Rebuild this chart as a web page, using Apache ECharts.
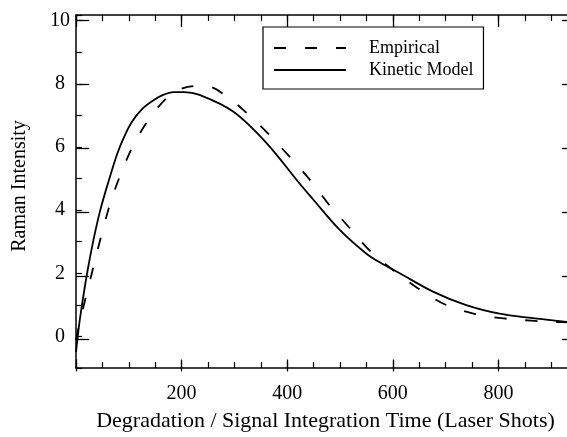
<!DOCTYPE html>
<html>
<head>
<meta charset="utf-8">
<script src="https://cdn.jsdelivr.net/npm/echarts@6/dist/echarts.min.js"></script>
<style>
html,body{margin:0;padding:0;background:#fff;overflow:hidden;width:567px;height:437px;}
#chart{width:575px;height:437px;}
</style>
</head>
<body>
<div id="chart"></div>
<script>
// Data
const kineticX = [0, 5, 10, 21, 33, 46, 62, 78, 92, 106, 125, 144, 165, 185, 205, 234, 297, 360, 423, 448, 499, 550, 580, 613, 676, 739, 802, 865, 929, 945];
const kineticY = [-0.5, 0.25, 0.85, 2.0, 3.05, 4.0, 4.93, 5.78, 6.35, 6.8, 7.2, 7.45, 7.65, 7.74, 7.74, 7.65, 7.13, 6.14, 4.85, 4.36, 3.38, 2.62, 2.3, 2.0, 1.42, 0.99, 0.72, 0.58, 0.46, 0.43];
const empiricalX = [0, 10, 24, 38, 52, 68, 89, 110, 141, 176, 200, 226, 250, 289, 327, 368, 409, 446, 478, 519, 558, 606, 648, 698, 751, 805, 862, 918, 945];
const empiricalY = [-0.1, 0.66, 1.6, 2.54, 3.45, 4.38, 5.32, 6.1, 6.95, 7.62, 7.85, 7.93, 7.92, 7.55, 7.02, 6.35, 5.61, 4.9, 4.2, 3.42, 2.69, 2.03, 1.52, 1.02, 0.73, 0.58, 0.50, 0.45, 0.44];
const xLabelValues = [200, 400, 600, 800];
const xMajorTicks = [0, 200, 400, 600, 800];
const yLabelValues = [0, 2, 4, 6, 8, 10];
const seriesNames = ['Empirical', 'Kinetic Model'];
const xTitle = 'Degradation / Signal Integration Time (Laser Shots)';
const yTitle = 'Raman Intensity';

const X_MIN = 0, X_MAX = 945, Y_MIN = -1, Y_MAX = 10.18;
const FONT = '"Liberation Serif", "Times New Roman", serif';

const gridBox = {left: 76, right: 0, top: 15, bottom: 65.5, containLabel: false};
const lineBlack = {color: '#000', width: 1.5};

function xAx(grid, pos, opts) {
  return Object.assign({
    type: 'value', gridIndex: grid, position: pos, min: X_MIN, max: X_MAX,
    axisLine: {show: grid === 0, onZero: false, lineStyle: lineBlack},
    splitLine: {show: false},
    axisLabel: {show: false}
  }, opts);
}
function yAx(grid, pos, opts) {
  return Object.assign({
    type: 'value', gridIndex: grid, position: pos, min: Y_MIN, max: Y_MAX,
    axisLine: {show: grid === 0, onZero: false, lineStyle: lineBlack},
    splitLine: {show: false},
    axisLabel: {show: false}
  }, opts);
}

const chart = echarts.init(document.getElementById('chart'), null, {renderer: 'canvas'});
chart.setOption({
  animation: false,
  backgroundColor: '#fff',
  grid: [Object.assign({}, gridBox), Object.assign({}, gridBox)],
  graphic: [{
    type: 'text', x: 20, y: 186, rotation: Math.PI / 2,
    style: {text: yTitle, fill: '#000', font: '20px ' + FONT, align: 'center', verticalAlign: 'middle'}
  }],
  xAxis: [
    xAx(0, 'bottom', {
      interval: 50,
      axisTick: {inside: true, length: 6, lineStyle: {color: '#000', width: 1.2}},
      axisLabel: {show: true, customValues: xLabelValues, margin: 16, color: '#000', fontFamily: FONT, fontSize: 20},
      name: xTitle,
      nameLocation: 'middle', nameGap: 42,
      nameTextStyle: {color: '#000', fontFamily: FONT, fontSize: 22}
    }),
    xAx(0, 'top', {
      interval: 50,
      axisTick: {inside: true, length: 6, lineStyle: {color: '#000', width: 1.2}}
    }),
    xAx(1, 'bottom', {
      axisTick: {inside: true, length: 12, customValues: xMajorTicks, lineStyle: {color: '#000', width: 1.3}}
    }),
    xAx(1, 'top', {
      axisTick: {inside: true, length: 12, customValues: xMajorTicks, lineStyle: {color: '#000', width: 1.3}}
    })
  ],
  yAxis: [
    yAx(0, 'left', {
      interval: 1,
      axisTick: {inside: true, length: 6, lineStyle: {color: '#000', width: 1.2}},
      axisLabel: {show: true, customValues: yLabelValues, align: 'center', margin: 16, color: '#000', fontFamily: FONT, fontSize: 20}
    }),
    yAx(0, 'right', {
      interval: 1,
      axisTick: {inside: true, length: 6, lineStyle: {color: '#000', width: 1.2}}
    }),
    yAx(1, 'left', {
      axisTick: {inside: true, length: 13, customValues: yLabelValues, lineStyle: {color: '#000', width: 1.3}}
    }),
    yAx(1, 'right', {
      axisTick: {inside: true, length: 13, customValues: yLabelValues, lineStyle: {color: '#000', width: 1.3}}
    })
  ],
  legend: {
    orient: 'vertical', left: 263, top: 27,
    data: seriesNames,
    itemWidth: 72, itemHeight: 20, itemGap: 2,
    padding: [11, 10, 9, 10],
    borderColor: '#000', borderWidth: 1.2,
    itemStyle: {color: 'rgba(0,0,0,0)', opacity: 0, borderWidth: 0},
    textStyle: {color: '#000', fontFamily: FONT, fontSize: 18, lineHeight: 20, padding: [0, 0, 0, 18]},
    selectedMode: false
  },
  series: [
    {
      name: seriesNames[0], type: 'line', xAxisIndex: 0, yAxisIndex: 0,
      data: empiricalX.map((x, i) => [x, empiricalY[i]]),
      smooth: 0.35, symbol: 'none', showSymbol: false,
      lineStyle: {color: '#000', width: 1.8, type: [12, 19]},
      itemStyle: {color: '#000'}
    },
    {
      name: seriesNames[1], type: 'line', xAxisIndex: 0, yAxisIndex: 0,
      data: kineticX.map((x, i) => [x, kineticY[i]]),
      smooth: 0.35, symbol: 'none', showSymbol: false,
      lineStyle: {color: '#000', width: 1.8, type: 'solid'},
      itemStyle: {color: '#000'}
    }
  ]
});
</script>
</body>
</html>
